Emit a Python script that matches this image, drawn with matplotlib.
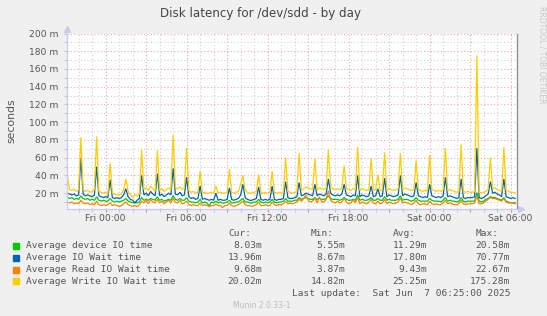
"""Munin style chart: disk latency for /dev/sdd over one day."""
import matplotlib
matplotlib.use("Agg")
import matplotlib.pyplot as plt
import matplotlib.dates as mdates
from matplotlib.ticker import MultipleLocator, FuncFormatter
import pandas as pd

# 10 minute samples, Thu 21:10 -> Sat 06:20 (values in milliseconds)
TIMES = pd.date_range("2025-06-05 21:10", periods=200, freq="10min")

DEVICE_IO = [
    15, 14, 15, 13, 14, 13, 17, 14, 13, 14, 12, 13, 12, 16, 12, 11, 12, 11, 11, 14,
    11, 10, 11, 10, 11, 12, 14, 11, 10, 9, 10, 9, 10, 15, 12, 13, 12, 14, 13, 12,
    16, 12, 13, 11, 12, 13, 12, 17, 13, 12, 14, 12, 12, 15, 11, 10, 10, 9, 10, 13,
    9, 10, 9, 5.6, 10, 9, 11, 9, 10, 9, 9, 10, 12, 9, 9, 10, 10, 12, 14, 10,
    10, 9, 9, 10, 10, 13, 10, 9, 10, 9, 10, 13, 10, 9, 10, 10, 11, 14, 11, 11,
    11, 12, 12, 15, 13, 14, 15, 14, 13, 13, 15, 13, 14, 13, 13, 14, 17, 14, 13, 13,
    13, 12, 13, 15, 13, 12, 12, 13, 12, 18, 12, 13, 12, 12, 13, 15, 12, 12, 14, 12,
    12, 16, 12, 13, 12, 12, 12, 13, 17, 12, 13, 13, 12, 11, 12, 15, 12, 11, 11, 11,
    11, 14, 12, 11, 11, 11, 10, 12, 15, 11, 12, 11, 11, 10, 11, 15, 11, 10, 11, 11,
    11, 11, 20.58, 11, 10, 11, 13, 14, 16, 15, 15, 14, 13, 12, 15, 11, 10, 9, 9, 8.03,
]
IO_WAIT = [
    20, 19, 18, 19, 17, 18, 60, 19, 17, 18, 17, 16, 18, 50, 17, 16, 15, 16, 15, 35,
    15, 14, 15, 14, 15, 18, 25, 16, 13, 12, 8.67, 12, 14, 40, 18, 20, 17, 22, 19, 17,
    42, 17, 19, 16, 18, 20, 18, 48, 19, 18, 21, 17, 18, 38, 16, 14, 15, 13, 14, 28,
    13, 14, 13, 12, 13, 12, 20, 12, 13, 12, 12, 13, 26, 13, 12, 13, 14, 18, 30, 15,
    13, 12, 12, 13, 14, 27, 13, 12, 13, 12, 13, 28, 13, 12, 13, 13, 14, 33, 15, 14,
    14, 15, 16, 32, 17, 18, 20, 19, 18, 17, 30, 17, 19, 18, 17, 19, 36, 20, 18, 17,
    18, 17, 19, 30, 18, 17, 16, 18, 17, 40, 16, 18, 17, 16, 17, 28, 16, 17, 25, 16,
    17, 37, 16, 18, 17, 16, 17, 18, 40, 17, 19, 18, 17, 16, 17, 32, 17, 16, 15, 16,
    15, 30, 17, 16, 15, 16, 15, 17, 38, 16, 17, 16, 15, 14, 15, 36, 15, 14, 15, 15,
    15, 16, 70.77, 15, 14, 15, 17, 19, 33, 20, 21, 19, 18, 16, 36, 16, 15, 14, 15, 13.96,
]
READ_WAIT = [
    10, 9, 10, 8, 9, 8, 12, 9, 8, 9, 7, 8, 7, 11, 7, 6, 7, 6, 7, 9,
    6, 7, 6, 5, 6, 8, 10, 7, 6, 5, 6, 5, 7, 11, 9, 12, 8, 13, 10, 9,
    13, 9, 11, 8, 10, 12, 9, 14, 10, 9, 12, 8, 9, 11, 7, 6, 7, 6, 6, 9,
    6, 7, 6, 5, 6, 6, 8, 6, 6, 3.87, 6, 6, 9, 6, 5, 6, 7, 9, 11, 7,
    6, 6, 5, 6, 7, 10, 6, 6, 7, 6, 6, 10, 7, 6, 7, 7, 8, 11, 8, 9,
    8, 9, 10, 13, 11, 14, 18, 12, 10, 11, 14, 9, 16, 11, 10, 13, 22.67, 12, 10, 9,
    11, 9, 10, 14, 10, 8, 9, 12, 9, 15, 8, 10, 9, 8, 10, 13, 9, 8, 11, 8,
    9, 13, 8, 10, 9, 8, 9, 10, 14, 9, 10, 9, 8, 7, 9, 12, 8, 7, 8, 8,
    7, 11, 8, 7, 8, 7, 7, 9, 12, 8, 9, 8, 7, 7, 8, 12, 8, 7, 8, 8,
    8, 9, 17, 8, 8, 9, 11, 13, 15, 14, 14, 13, 12, 11, 14, 10, 9, 9, 9, 9.68,
]
WRITE_WAIT = [
    40, 24, 23, 25, 22, 24, 83, 24, 22, 23, 21, 22, 24, 84, 22, 21, 20, 21, 19, 54,
    20, 19, 18, 18, 19, 24, 36, 22, 18, 14.82, 18, 17, 19, 69, 24, 26, 23, 28, 25, 22,
    68, 23, 25, 22, 24, 26, 24, 86, 26, 25, 27, 24, 26, 71, 23, 21, 22, 20, 21, 45,
    20, 21, 20, 20, 21, 20, 28, 20, 21, 20, 20, 21, 47, 21, 20, 21, 22, 30, 40, 24,
    21, 20, 20, 21, 22, 41, 21, 20, 21, 20, 21, 45, 21, 20, 21, 20, 21, 60, 22, 21,
    20, 21, 22, 65, 23, 25, 27, 26, 25, 24, 59, 23, 26, 25, 24, 26, 69, 27, 25, 24,
    25, 24, 26, 51, 25, 24, 23, 25, 24, 72, 23, 25, 24, 23, 24, 59, 23, 24, 41, 23,
    24, 66, 23, 25, 24, 23, 24, 25, 65, 24, 26, 25, 24, 23, 24, 57, 24, 23, 22, 23,
    22, 63, 24, 23, 22, 23, 22, 24, 71, 23, 24, 23, 22, 21, 22, 75, 22, 21, 22, 21,
    21, 22, 175.28, 21, 20, 21, 22, 24, 60, 25, 26, 24, 23, 22, 72, 23, 22, 21, 21, 20.02,
]

SERIES = ["Average device IO time", "Average IO Wait time",
          "Average Read IO Wait time", "Average Write IO Wait time"]
COLORS = ["#00CC00", "#0066B3", "#FF8000", "#FFCC00"]
CUR = ["8.03m", "13.96m", "9.68m", "20.02m"]
MIN = ["5.55m", "8.67m", "3.87m", "14.82m"]
AVG = ["11.29m", "17.80m", "9.43m", "25.25m"]
MAX = ["20.58m", "70.77m", "22.67m", "175.28m"]

W, H = 547, 316
BG = "#F0F0F0"
TXT = "#555555"


def fx(px):
    return px / W


def fy(py):
    return 1 - py / H


def main() -> None:
    fig = plt.figure(figsize=(W / 100, H / 100), dpi=100, facecolor=BG)
    ax = fig.add_axes([fx(66.7), fy(208.5), fx(450), (208.5 - 33.5) / H])
    ax.set_facecolor("white")

    for vals, col in zip([DEVICE_IO, IO_WAIT, READ_WAIT, WRITE_WAIT], COLORS):
        ax.plot(TIMES, vals, color=col, lw=0.9, solid_joinstyle="miter")

    ax.set_xlim(pd.Timestamp("2025-06-05 21:07"), pd.Timestamp("2025-06-07 06:27"))
    ax.set_ylim(2.7, 200)

    # y axis
    ax.yaxis.set_major_locator(MultipleLocator(20))
    ax.yaxis.set_minor_locator(MultipleLocator(10))
    ax.yaxis.set_major_formatter(FuncFormatter(lambda v, p: f"{int(round(v))} m"))
    # x axis
    ax.xaxis.set_major_locator(mdates.HourLocator(byhour=range(0, 24, 3)))
    ax.xaxis.set_minor_locator(mdates.HourLocator())
    ax.xaxis.set_major_formatter(FuncFormatter(
        lambda v, p: mdates.num2date(v).strftime("%a %H:%M")
        if mdates.num2date(v).hour % 6 == 0 else ""))

    ax.grid(which="major", color="#F0A8A8", ls=(0, (1, 2)), lw=0.8)
    ax.grid(which="minor", color="#D0D0D0", ls=(0, (1, 2)), lw=0.8)
    ax.set_axisbelow(True)

    ax.tick_params(which="both", labelsize=6.6, labelcolor=TXT, length=2, width=0.8)
    ax.tick_params(axis="x", which="major", color="#F08080", pad=2)
    ax.tick_params(axis="x", which="minor", color="#C8C8C8")
    ax.tick_params(axis="y", which="both", color="#C8C8C8", pad=4)

    for s in ["left", "bottom"]:
        ax.spines[s].set_color("#C8CCF0")
        ax.spines[s].set_linewidth(1)
    ax.spines["top"].set_visible(False)
    ax.spines["right"].set_color("#909090")
    ax.spines["right"].set_linewidth(1)

    # axis arrows
    ax.plot([0], [1.025], marker="^", ms=4, color="#C8CCF0", transform=ax.transAxes, clip_on=False)
    ax.plot([1.009], [0], marker=">", ms=4, color="#C8CCF0", transform=ax.transAxes, clip_on=False)

    ax.set_ylabel("seconds", fontsize=7.8, color=TXT, labelpad=9)
    fig.text(fx(261), fy(13), "Disk latency for /dev/sdd - by day", fontsize=8.6,
             color="#444444", ha="center", va="center")
    fig.text(fx(542), fy(6), "RRDTOOL / TOBI OETIKER", fontsize=5.5, color="#C8C8C8",
             rotation=-90, ha="center", va="top")

    # legend block
    mono = "DejaVu Sans Mono"
    fs = 6.8
    for hx, h in zip([228.3, 311, 393.3, 475.7], ["Cur:", "Min:", "Avg:", "Max:"]):
        fig.text(fx(hx), fy(233.3), h, family=mono, fontsize=fs, color=TXT, va="center")
    rows = [245.7, 257.7, 269.7, 281.3]
    for i, ry in enumerate(rows):
        fig.patches.append(plt.Rectangle((fx(13.3), fy(ry + 3)), fx(6), 6 / H,
                                         transform=fig.transFigure, color=COLORS[i]))
        fig.text(fx(25.7), fy(ry), SERIES[i], family=mono, fontsize=fs, color=TXT, va="center")
        for rx, col in zip([262.3, 345, 427.3, 510], [CUR, MIN, AVG, MAX]):
            fig.text(fx(rx), fy(ry), col[i], family=mono, fontsize=fs, color=TXT,
                     va="center", ha="right")
    fig.text(fx(510), fy(293.3), "Last update:  Sat Jun  7 06:25:00 2025", family=mono,
             fontsize=fs, color=TXT, va="center", ha="right")
    fig.text(fx(261.7), fy(305), "Munin 2.0.33-1", fontsize=5.5, color="#BBBBBB",
             ha="center", va="center")

    fig.savefig("out.png", dpi=100, facecolor=BG)


if __name__ == "__main__":
    main()
